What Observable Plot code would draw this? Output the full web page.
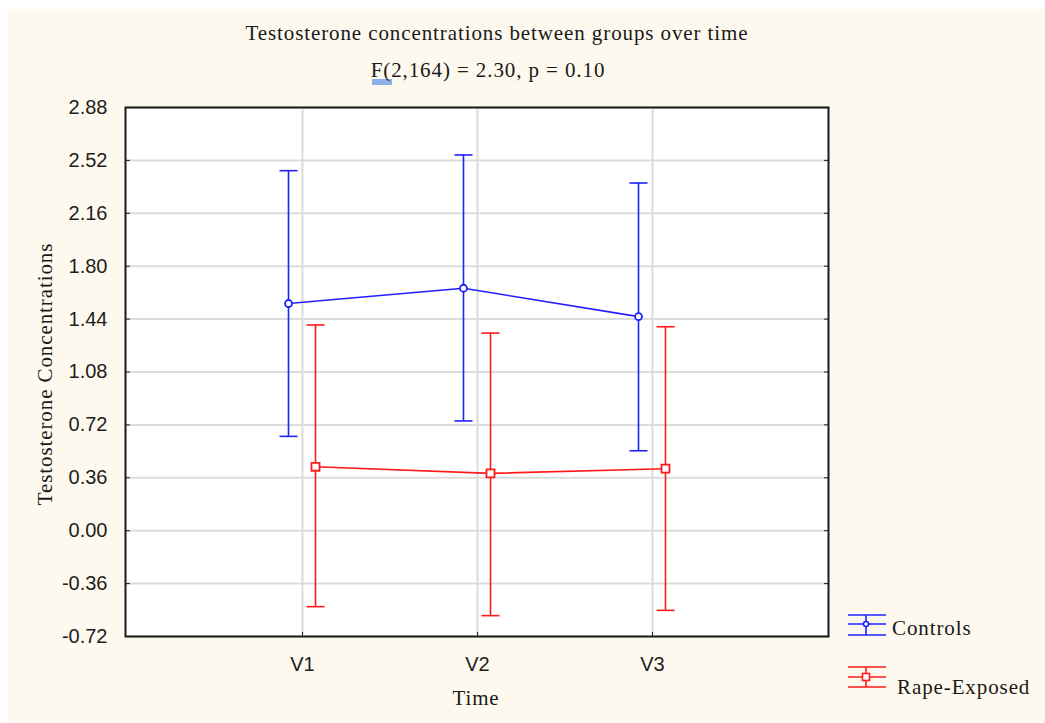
<!DOCTYPE html>
<html>
<head>
<meta charset="utf-8">
<script src="https://cdn.jsdelivr.net/npm/d3@7"></script>
<script src="https://cdn.jsdelivr.net/npm/@observablehq/plot@0.6"></script>
<style>
  html, body { margin: 0; padding: 0; background: #ffffff; }
  #page { position: relative; width: 1045px; height: 723px; overflow: hidden; }
  #panel { position: absolute; left: 8px; top: 9px; right: 0; bottom: 1px; background: #fdf9ee; }
  #chart { position: absolute; left: 0; top: 0; }
  .serif { position: absolute; white-space: nowrap; font-family: "Liberation Serif", "Times New Roman", serif; color: #1a1a1a; font-size: 21px; letter-spacing: 0.9px; }
  .center { transform: translate(-50%, -50%); }
  #title { left: 497px; top: 33px; }
  #subtitle { left: 488px; top: 70px; }
  #mark { position: absolute; left: 372px; top: 79px; width: 20px; height: 6px; background: #8fb0e6; }
  #xlabel { left: 476px; top: 698px; }
  #ylabel { left: 45px; top: 374px; transform: translate(-50%, -50%) rotate(-90deg); }
  #legend { position: absolute; left: 0; top: 0; }
</style>
</head>
<body>
<div id="page">
  <div id="panel"></div>
  <div id="chart"></div>
  <div id="mark"></div>
  <div id="title" class="serif center">Testosterone concentrations between groups over time</div>
  <div id="subtitle" class="serif center">F(2,164) = 2.30, p = 0.10</div>
  <div id="xlabel" class="serif center">Time</div>
  <div id="ylabel" class="serif">Testosterone Concentrations</div>
</div>
<script>
// Visits and y-axis ticks
const visits = ["V1", "V2", "V3"];
const yTicks = [-0.72, -0.36, 0.00, 0.36, 0.72, 1.08, 1.44, 1.80, 2.16, 2.52, 2.88];

// Group means with error-bar bounds per visit
const groups = ["Controls", "Rape-Exposed"];
const controlsMean = [1.546, 1.650, 1.457];
const controlsLow  = [0.642, 0.747, 0.544];
const controlsHigh = [2.450, 2.557, 2.366];
const exposedMean  = [0.435, 0.390, 0.422];
const exposedLow   = [-0.517, -0.578, -0.542];
const exposedHigh  = [1.400, 1.345, 1.388];

const colors = {"Controls": "#2020ff", "Rape-Exposed": "#ff1a1a"};
const shift = {"Controls": -14, "Rape-Exposed": 13};

const rows = [];
visits.forEach((v, i) => {
  rows.push({group: groups[0], visit: v, mean: controlsMean[i], low: controlsLow[i], high: controlsHigh[i]});
  rows.push({group: groups[1], visit: v, mean: exposedMean[i], low: exposedLow[i], high: exposedHigh[i]});
});

// Horizontal bar used as the error-bar cap symbol
const capSymbol = {
  draw(context, size) {
    const r = Math.sqrt(size / Math.PI);
    context.moveTo(-r, 0);
    context.lineTo(r, 0);
  }
};

function groupMarks(g, symbol, r) {
  const data = rows.filter(d => d.group === g);
  const c = colors[g], dx = shift[g];
  return [
    Plot.ruleX(data, {x: "visit", y1: "low", y2: "high", stroke: c, strokeWidth: 1.6, dx}),
    Plot.dot(data, {x: "visit", y: "high", symbol: capSymbol, r: 9, stroke: c, fill: "none", strokeWidth: 1.6, dx}),
    Plot.dot(data, {x: "visit", y: "low", symbol: capSymbol, r: 9, stroke: c, fill: "none", strokeWidth: 1.6, dx}),
    Plot.lineY(data, {x: "visit", y: "mean", stroke: c, strokeWidth: 1.6, dx}),
    Plot.dot(data, {x: "visit", y: "mean", stroke: c, fill: "white", strokeWidth: 1.8, symbol, r, dx})
  ];
}

const chart = Plot.plot({
  width: 1045,
  height: 723,
  marginLeft: 125,
  marginRight: 217,
  marginTop: 107,
  marginBottom: 87,
  style: {background: "transparent", fontFamily: "'Liberation Sans', Arial, sans-serif", fontSize: "20px", color: "#1e1e1e"},
  x: {type: "point", domain: visits, padding: 1},
  y: {domain: [-0.72, 2.88]},
  marks: [
    Plot.frame({fill: "white"}),
    Plot.gridY(yTicks, {stroke: "#dcdcdc", strokeOpacity: 1, strokeWidth: 2}),
    Plot.gridX(visits, {stroke: "#dcdcdc", strokeOpacity: 1, strokeWidth: 2}),
    Plot.axisY(yTicks, {tickSize: -5, tickPadding: 23, tickFormat: d => d.toFixed(2), label: null, stroke: "#222"}),
    Plot.axisY(yTicks, {anchor: "right", tickSize: -5, tickFormat: () => "", label: null, stroke: "#222"}),
    Plot.axisX(visits, {tickSize: -4, tickPadding: 24, label: null, stroke: "#222"}),
    ...groupMarks("Controls", "circle", 3.5),
    ...groupMarks("Rape-Exposed", "square", 4.5),
    Plot.frame({stroke: "#1a1a1a", strokeWidth: 2})
  ]
});
document.getElementById("chart").appendChild(chart);

// Legend: error-bar glyph plus group name
const ns = "http://www.w3.org/2000/svg";
const leg = document.createElementNS(ns, "svg");
leg.setAttribute("id", "legend");
leg.setAttribute("width", 1045);
leg.setAttribute("height", 723);
const entries = [
  {g: "Controls", cy: 624, top: 615, bottom: 635, tx: 892, ty: 635},
  {g: "Rape-Exposed", cy: 677, top: 667, bottom: 687, tx: 897, ty: 694}
];
for (const e of entries) {
  const c = colors[e.g];
  const add = (tag, attrs) => {
    const el = document.createElementNS(ns, tag);
    for (const k in attrs) el.setAttribute(k, attrs[k]);
    leg.appendChild(el);
    return el;
  };
  for (const y of [e.top, e.cy, e.bottom]) add("line", {x1: 848, x2: 886, y1: y, y2: y, stroke: c, "stroke-width": 1.6});
  add("line", {x1: 866, x2: 866, y1: e.top, y2: e.bottom, stroke: c, "stroke-width": 1.6});
  if (e.g === "Controls") add("circle", {cx: 866, cy: e.cy, r: 2.5, fill: "white", stroke: c, "stroke-width": 1.6});
  else add("rect", {x: 862.5, y: e.cy - 3.5, width: 7, height: 7, fill: "white", stroke: c, "stroke-width": 1.6});
  const t = add("text", {x: e.tx, y: e.ty, fill: "#1a1a1a", "font-family": "'Liberation Serif', 'Times New Roman', serif", "font-size": 21, "letter-spacing": 0.9});
  t.textContent = e.g;
}
document.getElementById("page").appendChild(leg);
</script>
</body>
</html>
